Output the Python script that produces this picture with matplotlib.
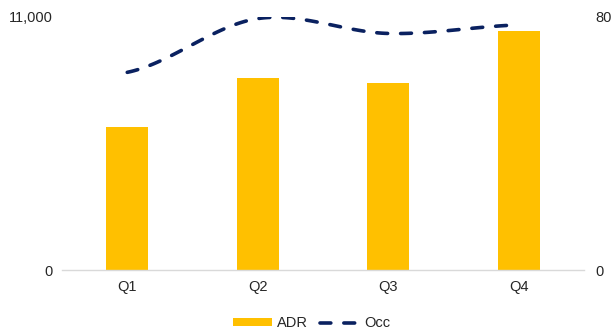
import numpy as np
import matplotlib
matplotlib.use("Agg")
import matplotlib.pyplot as plt

# Quarterly figures
quarters = ["Q1", "Q2", "Q3", "Q4"]
adr = [6200, 8350, 8130, 10400]
occ = [62.5, 79.5, 74.8, 77.5]

BAR_COLOR = "#FFC000"
LINE_COLOR = "#0A2160"
TEXT_COLOR = "#262626"


def smooth_curve(x, y, steps=40):
    """Catmull-Rom style smoothing between the data points (like a spreadsheet smoothed line)."""
    x = np.asarray(x, dtype=float)
    y = np.asarray(y, dtype=float)
    px = np.concatenate([[2 * x[0] - x[1]], x, [2 * x[-1] - x[-2]]])
    py = np.concatenate([[y[0]], y, [y[-1]]])
    xs, ys = [], []
    for i in range(1, len(px) - 2):
        t = np.linspace(0, 1, steps)
        p0, p1, p2, p3 = (np.array([px[j], py[j]]) for j in range(i - 1, i + 3))
        m1 = (p2 - p0) / 2
        m2 = (p3 - p1) / 2
        h00 = 2 * t**3 - 3 * t**2 + 1
        h10 = t**3 - 2 * t**2 + t
        h01 = -2 * t**3 + 3 * t**2
        h11 = t**3 - t**2
        pts = (np.outer(h00, p1) + np.outer(h10, m1)
               + np.outer(h01, p2) + np.outer(h11, m2))
        xs.extend(pts[:, 0])
        ys.extend(pts[:, 1])
    return np.array(xs), np.array(ys)


plt.rcParams["font.family"] = ["Liberation Sans", "DejaVu Sans"]

fig = plt.figure(figsize=(6.11, 3.32), dpi=100)
ax = fig.add_axes([62 / 611, 62 / 332, 522 / 611, 253 / 332])

x = np.arange(len(quarters))
bars = ax.bar(x, adr, width=0.32, color=BAR_COLOR, label="ADR", zorder=2)
ax.set_ylim(0, 11000)
ax.set_xlim(-0.5, len(quarters) - 0.5)
ax.set_yticks([0, 11000])
ax.set_yticklabels(["0", "11,000"])
ax.set_xticks(x)
ax.set_xticklabels(quarters)

for side in ["top", "right", "left"]:
    ax.spines[side].set_visible(False)
ax.spines["bottom"].set_color("#D9D9D9")
ax.spines["bottom"].set_linewidth(1.0)
ax.tick_params(axis="both", length=0, colors=TEXT_COLOR, labelsize=10.5)
ax.tick_params(axis="y", pad=7)
ax.tick_params(axis="x", pad=7)

# Occupancy on its own scale
ax2 = ax.twinx()
ax2.set_ylim(0, 80)
ax2.set_yticks([0, 80])
ax2.set_yticklabels(["0", "80"])
for side in ["top", "right", "left", "bottom"]:
    ax2.spines[side].set_visible(False)
ax2.tick_params(axis="y", length=0, colors=TEXT_COLOR, labelsize=10.5, pad=8)

sx, sy = smooth_curve(x, occ)
line, = ax2.plot(sx, sy, color=LINE_COLOR, linewidth=2.6,
                 linestyle=(0, (3.0, 3.6)), dash_capstyle="round",
                 label="Occ", zorder=3)

fig.legend(handles=[bars, line], labels=["ADR", "Occ"], loc="lower center",
           bbox_to_anchor=(0.51, -0.035), ncol=2, frameon=False,
           fontsize=10.5, handlelength=2.7, handleheight=0.45,
           columnspacing=0.85, handletextpad=0.3, labelcolor=TEXT_COLOR)

fig.savefig("out.png", dpi=100, facecolor="white")
